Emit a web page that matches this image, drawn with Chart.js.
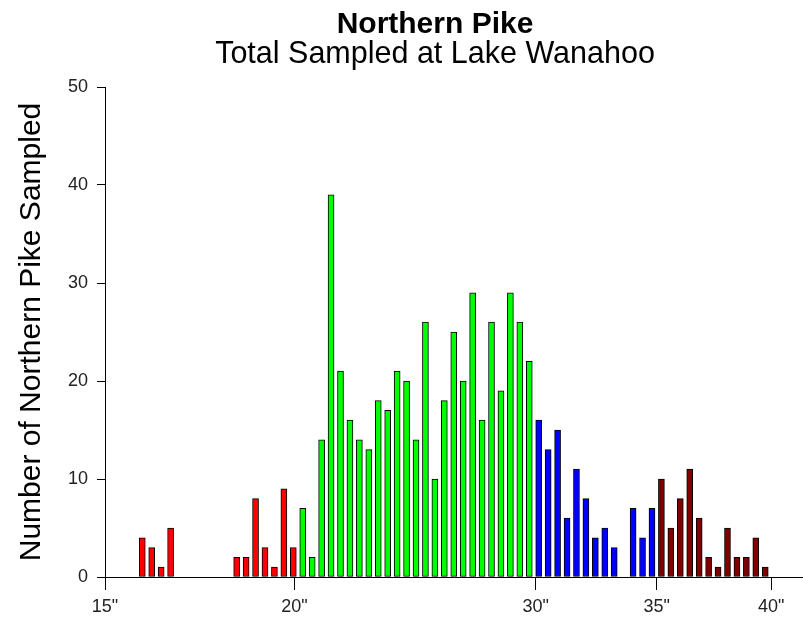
<!DOCTYPE html>
<html>
<head>
<meta charset="utf-8">
<script src="https://cdn.jsdelivr.net/npm/chart.js@4"></script>
<style>
  body { margin: 0; background: #fff; }
  #wrap { position: relative; width: 803px; height: 617px; }
  canvas { position: absolute; left: 0; top: 0; }
  .ttl {
    position: absolute; left: 135px; width: 600px; text-align: center;
    line-height: 1; color: #000; white-space: nowrap;
    font-family: "Liberation Sans", Arial, sans-serif;
  }
  #t1 { top: 8px; font-size: 30px; font-weight: bold; }
  #t2 { top: 37px; font-size: 30.5px; }
</style>
</head>
<body>
<div id="wrap">
  <canvas id="pikeChart" width="803" height="617"></canvas>
  <div class="ttl" id="t1">Northern Pike</div>
  <div class="ttl" id="t2">Total Sampled at Lake Wanahoo</div>
</div>
<script>
// one bar per length bin; each colour group starts at its own bin
const redStart = 35, greenStart = 52, blueStart = 77, maroonStart = 90;

const redCounts = [4, 3, 1, 5, null, null, null, null, null, null, 2, 2, 8, 3, 1, 9, 3];
const greenCounts = [7, 2, 14, 39, 21, 16, 14, 13, 18, 17, 21, 20, 14, 26, 10, 18, 25, 20, 29, 16, 26, 19, 29, 26, 22];
const blueCounts = [16, 13, 15, 6, 11, 8, 4, 5, 3, null, 7, 4, 7];
const maroonCounts = [10, 5, 8, 11, 6, 2, 1, 5, 2, 2, 4, 1];

// x tick marks (same bin units) and their labels
const xTickPositions = [31.05, 51.13, 76.67, 89.51, 101.63];
const xTickLabels = ['15"', '20"', '30"', '35"', '40"'];
const xMin = 31.05, xMax = 105.0;

const toPoints = (start, counts) => counts.map((y, k) => ({ x: start + k, y }));

const barSet = (start, counts, color) => ({
    data: toPoints(start, counts),
    backgroundColor: color,
    borderColor: "#000",
    borderWidth: 1,
    borderSkipped: false,
    barThickness: 6,
    grouped: false
});

Chart.defaults.font.family = '"Liberation Sans", Arial, sans-serif';

new Chart(document.getElementById("pikeChart"), {
    type: "bar",
    data: {
        datasets: [
            barSet(redStart, redCounts, "#ff0000"),
            barSet(greenStart, greenCounts, "#00ff00"),
            barSet(blueStart, blueCounts, "#0000ff"),
            barSet(maroonStart, maroonCounts, "#800000")
        ]
    },
    options: {
        responsive: false,
        animation: false,
        layout: { padding: { top: 87, left: 0, right: 0, bottom: 0 } },
        plugins: {
            legend: { display: false },
            tooltip: { enabled: false }
        },
        scales: {
            x: {
                type: "linear",
                min: xMin,
                max: xMax,
                offset: false,
                afterBuildTicks: (scale) => {
                    scale.ticks = xTickPositions.map(v => ({ value: v }));
                },
                afterFit: (scale) => { scale.height = 40; },
                grid: { drawOnChartArea: false, offset: false, tickLength: 13, color: "#000" },
                border: { display: true, color: "#000", width: 1 },
                ticks: {
                    autoSkip: false,
                    maxRotation: 0,
                    padding: 6,
                    color: "#222",
                    font: { size: 18 },
                    callback: (value, index) => xTickLabels[index]
                }
            },
            y: {
                min: 0,
                max: 50,
                afterFit: (scale) => { scale.width = 105; },
                grid: { drawOnChartArea: false, tickLength: 8, color: "#000" },
                border: { display: true, color: "#000", width: 1 },
                ticks: { stepSize: 10, padding: 9, color: "#222", font: { size: 18 } },
                title: {
                    display: true,
                    text: "Number of Northern Pike Sampled",
                    color: "#000",
                    font: { size: 30 },
                    padding: { top: 14, bottom: 0 }
                }
            }
        }
    }
});
</script>
</body>
</html>
